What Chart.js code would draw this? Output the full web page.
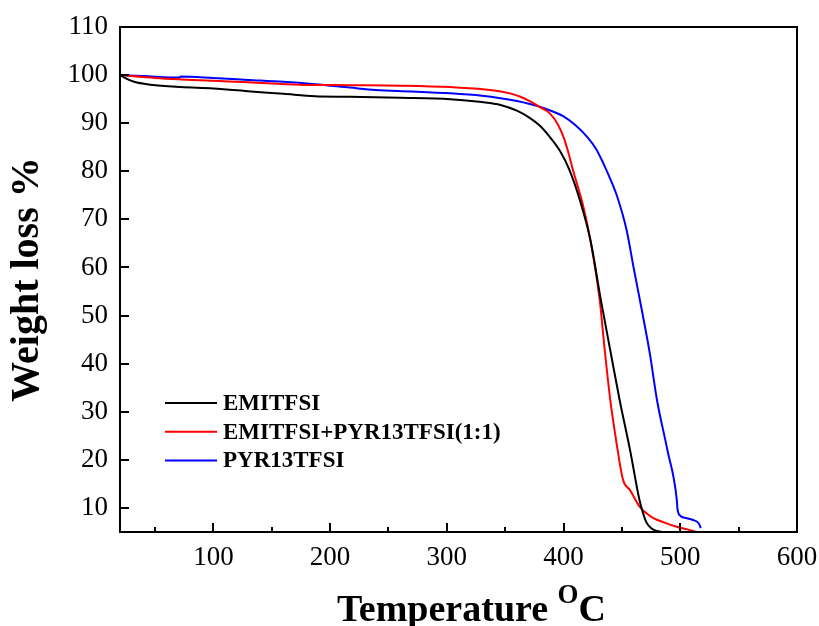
<!DOCTYPE html>
<html>
<head>
<meta charset="utf-8">
<script src="https://cdn.jsdelivr.net/npm/chart.js@4.4.1/dist/chart.umd.min.js"></script>
<style>
    body { margin: 0; background: #fff; }
    canvas { display: block; }
</style>
</head>
<body>
<canvas id="tgaCanvas" width="819" height="626"></canvas>
<script>
// TGA curves: temperature (°C) vs remaining weight (%)
const seriesLabels = ["EMITFSI", "EMITFSI+PYR13TFSI(1:1)", "PYR13TFSI"];
const seriesColors = ["#000000", "#ff0000", "#0000ff"];

const emiTemp = [20, 25, 32, 46, 72, 100, 132, 160, 187, 217, 260, 303, 330, 346, 360, 371, 380, 388, 397, 405, 414, 423, 432, 440, 448, 457, 465, 468, 471, 475, 480, 485];
const emiWeight = [100, 99.3, 98.6, 98.0, 97.5, 97.2, 96.6, 96.1, 95.6, 95.5, 95.3, 95.0, 94.4, 93.8, 92.6, 91.1, 89.4, 87.2, 84.2, 80.3, 74.0, 65.7, 53.2, 42.8, 32.5, 22.0, 11.7, 9.0, 7.0, 5.8, 5.2, 5.0];

const mixTemp = [20, 50, 72, 100, 130, 174, 217, 260, 303, 337, 354, 363, 371, 380, 388, 395, 400, 404, 408, 417, 423, 431, 435, 440, 445, 451, 457, 465, 471, 477, 487, 497, 505, 514];
const mixWeight = [100, 99.4, 99.1, 98.8, 98.5, 98.0, 97.9, 97.8, 97.5, 96.9, 96.2, 95.5, 94.6, 93.3, 92.1, 89.8, 87.1, 84.0, 80.3, 72.6, 65.7, 53.2, 43.5, 32.5, 24.1, 15.8, 13.7, 10.3, 8.9, 7.9, 6.9, 6.1, 5.6, 5.0];

const pyrTemp = [20, 40, 71, 72, 100, 130, 160, 187, 217, 239, 270, 303, 330, 346, 360, 371, 380, 388, 400, 410, 420, 428, 434, 440, 446, 454, 460, 467, 474, 480, 489, 497, 497.5, 499, 505, 511, 515, 517, 517.5];
const pyrWeight = [100, 99.8, 99.5, 99.7, 99.4, 99.0, 98.6, 98.1, 97.4, 96.9, 96.6, 96.2, 95.7, 95.2, 94.6, 94.0, 93.4, 92.7, 91.4, 89.6, 87.2, 84.6, 81.7, 78.4, 74.7, 67.8, 60.0, 51.2, 42.0, 32.5, 22.0, 11.7, 10.0, 8.6, 7.9, 7.5, 7.0, 6.2, 5.8];

const xMajorTicks = [100, 200, 300, 400, 500, 600];
const xMinorTicks = [50, 150, 250, 350, 450, 550];
const yTicks = [10, 20, 30, 40, 50, 60, 70, 80, 90, 100, 110];

const serif = "'Liberation Serif', 'Times New Roman', serif";

const seriesTemps = [emiTemp, mixTemp, pyrTemp];
const seriesWeights = [emiWeight, mixWeight, pyrWeight];

// box around the plot and inward tick marks
const frameTicks = {
    id: "frameTicks",
    afterDatasetsDraw(chart) {
        const { ctx, chartArea: a, scales } = chart;
        ctx.save();
        ctx.strokeStyle = "#000";
        ctx.lineWidth = 2;
        ctx.strokeRect(a.left, a.top, a.right - a.left, a.bottom - a.top);
        ctx.beginPath();
        xMajorTicks.forEach((v) => {
            const px = Math.round(scales.x.getPixelForValue(v));
            ctx.moveTo(px, a.bottom);
            ctx.lineTo(px, a.bottom - 9);
        });
        xMinorTicks.forEach((v) => {
            const px = Math.round(scales.x.getPixelForValue(v));
            ctx.moveTo(px, a.bottom);
            ctx.lineTo(px, a.bottom - 5);
        });
        yTicks.forEach((v) => {
            const py = Math.round(scales.y.getPixelForValue(v));
            ctx.moveTo(a.left, py);
            ctx.lineTo(a.left + 9, py);
        });
        ctx.stroke();
        ctx.restore();
    },
};

// legend inside the plot, lower left
const insideLegend = {
    id: "insideLegend",
    afterDraw(chart) {
        const { ctx, chartArea: a } = chart;
        ctx.save();
        ctx.font = "bold 23px " + serif;
        ctx.textBaseline = "middle";
        chart.data.datasets.forEach((ds, i) => {
            const y = a.top + 376 + i * 28.7;
            ctx.strokeStyle = ds.borderColor;
            ctx.lineWidth = 2;
            ctx.beginPath();
            ctx.moveTo(a.left + 45, y);
            ctx.lineTo(a.left + 97, y);
            ctx.stroke();
            ctx.fillStyle = "#000";
            ctx.fillText(ds.label, a.left + 103, y + 1);
        });
        ctx.restore();
    },
};

// x axis title with superscript degree mark
const xTitle = {
    id: "xTitle",
    afterDraw(chart) {
        const { ctx, chartArea: a } = chart;
        ctx.save();
        ctx.fillStyle = "#000";
        ctx.textBaseline = "alphabetic";
        const bigFont = "bold 38px " + serif;
        const smallFont = "bold 27px " + serif;
        ctx.font = bigFont;
        const w1 = ctx.measureText("Temperature ").width;
        const w3 = ctx.measureText("C").width;
        ctx.font = smallFont;
        const w2 = ctx.measureText("O").width;
        const total = w1 + w2 + w3;
        let x = (a.left + a.right) / 2 + 13 - total / 2;
        const base = 621;
        ctx.font = bigFont;
        ctx.fillText("Temperature ", x, base);
        x += w1;
        ctx.font = smallFont;
        ctx.fillText("O", x, base - 18);
        x += w2;
        ctx.font = bigFont;
        ctx.fillText("C", x, base);
        ctx.restore();
    },
};

new Chart(document.getElementById("tgaCanvas"), {
    type: "line",
    data: {
        datasets: seriesLabels.map((label, i) => ({
            label: label,
            data: seriesTemps[i].map((t, j) => ({ x: t, y: seriesWeights[i][j] })),
            borderColor: seriesColors[i],
            borderWidth: 2,
            pointRadius: 0,
            fill: false,
            cubicInterpolationMode: "monotone",
        })),
    },
    options: {
        responsive: false,
        animation: false,
        layout: { padding: { left: 0, right: 22, top: 27, bottom: 0 } },
        scales: {
            x: {
                type: "linear",
                min: 20,
                max: 600,
                grid: { display: false, drawTicks: false },
                border: { display: false },
                afterBuildTicks: (s) => { s.ticks = xMajorTicks.map((v) => ({ value: v })); },
                afterFit: (s) => {
                    s.height = 94;
                    s.paddingLeft = 0;
                    s.paddingRight = 0;
                },
                ticks: {
                    color: "#000",
                    padding: 10,
                    maxRotation: 0,
                    font: { family: serif, size: 27 },
                },
            },
            y: {
                type: "linear",
                min: 5,
                max: 110,
                grid: { display: false, drawTicks: false },
                border: { display: false },
                afterBuildTicks: (s) => { s.ticks = yTicks.map((v) => ({ value: v })); },
                afterFit: (s) => {
                    s.width = 120;
                    s.paddingTop = 0;
                    s.paddingBottom = 0;
                },
                ticks: {
                    color: "#000",
                    padding: 12,
                    font: { family: serif, size: 27 },
                },
                title: {
                    display: true,
                    text: "Weight loss %",
                    color: "#000",
                    padding: { top: 4, bottom: 4 },
                    font: { family: serif, size: 40, weight: "bold" },
                },
            },
        },
        plugins: {
            legend: { display: false },
            tooltip: { enabled: false },
        },
    },
    plugins: [frameTicks, insideLegend, xTitle],
});
</script>
</body>
</html>
